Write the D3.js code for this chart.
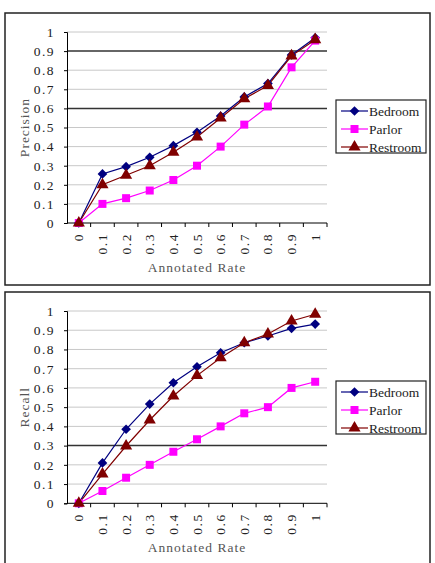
<!DOCTYPE html>
<html>
<head>
<meta charset="utf-8">
<script src="https://cdn.jsdelivr.net/npm/d3@7"></script>
<style>
  body { margin: 0; background: #fff; }
  text { font-family: "Liberation Serif", serif; }
</style>
</head>
<body>
<div id="chart"></div>
<script>
const FRAME_WIDTH = 435;
const FRAME_HEIGHT = 563;

// data
const RATES = ["0", "0.1", "0.2", "0.3", "0.4", "0.5", "0.6", "0.7", "0.8", "0.9", "1"];
const SERIES_NAMES = ["Bedroom", "Parlor", "Restroom"];
const Y_TICKS = [0, 0.1, 0.2, 0.3, 0.4, 0.5, 0.6, 0.7, 0.8, 0.9, 1];

const PRECISION_BEDROOM = [0, 0.257, 0.295, 0.344, 0.405, 0.475, 0.56, 0.66, 0.73, 0.88, 0.97];
const PRECISION_PARLOR = [0, 0.10, 0.13, 0.17, 0.225, 0.30, 0.40, 0.515, 0.61, 0.815, 0.955];
const PRECISION_RESTROOM = [0, 0.20, 0.25, 0.30, 0.37, 0.45, 0.55, 0.65, 0.72, 0.875, 0.96];

const RECALL_BEDROOM = [0, 0.21, 0.385, 0.516, 0.627, 0.71, 0.783, 0.835, 0.87, 0.91, 0.932];
const RECALL_PARLOR = [0, 0.064, 0.133, 0.20, 0.268, 0.333, 0.40, 0.468, 0.50, 0.60, 0.632];
const RECALL_RESTROOM = [0, 0.152, 0.298, 0.433, 0.558, 0.664, 0.757, 0.835, 0.88, 0.948, 0.983];

// the odd dark gridlines in each panel
const PRECISION_DARK = [0.6, 0.9];
const RECALL_DARK = [0.3];

const COLORS = ["#000080", "#ff00ff", "#800000"];
const SYMBOLS = [d3.symbolDiamond2, d3.symbolSquare, d3.symbolTriangle];
const SYMBOL_SIZES = [60, 64, 64];

const FONT_SIZE = "13.5px";

const SVG = d3.select("#chart")
  .append("svg")
    .attr("width", FRAME_WIDTH)
    .attr("height", FRAME_HEIGHT);

function build_panel(top, frameH, plotTop, plotBottom, yLabel, values, darkLines, legendY) {
  const PLOT_LEFT = 67, PLOT_RIGHT = 327;

  // outer frame
  SVG.append("rect")
    .attr("x", 5).attr("y", top)
    .attr("width", 425).attr("height", frameH)
    .attr("fill", "none").attr("stroke", "#222").attr("stroke-width", 1.5);

  const X_SCALE = d3.scaleBand().domain(RATES).range([PLOT_LEFT, PLOT_RIGHT]);
  const Y_SCALE = d3.scaleLinear().domain([0, 1]).range([plotBottom, plotTop]);

  // gridlines
  SVG.append("g").selectAll("line")
    .data(Y_TICKS.slice(1))
    .enter().append("line")
      .attr("x1", PLOT_LEFT).attr("x2", PLOT_RIGHT)
      .attr("y1", d => Y_SCALE(d)).attr("y2", d => Y_SCALE(d))
      .attr("stroke", d => darkLines.includes(d) ? "#333" : "#c8c8c8")
      .attr("stroke-width", d => darkLines.includes(d) ? 1.5 : 1);

  // y axis
  const yAxis = SVG.append("g")
    .attr("transform", "translate(" + PLOT_LEFT + ",0)")
    .call(d3.axisLeft(Y_SCALE).tickValues(Y_TICKS).tickSize(3).tickPadding(9)
      .tickFormat(d => d === 0 || d === 1 ? String(d) : d.toFixed(1)));
  yAxis.selectAll("text")
    .attr("font-size", FONT_SIZE).attr("fill", "#222")
    .attr("letter-spacing", "1.5px")
    .style("font-family", "Liberation Serif");
  yAxis.selectAll("line, path").attr("stroke", "#000");

  // x axis (ticks between categories)
  const xAxis = SVG.append("g")
    .attr("transform", "translate(0," + plotBottom + ")");
  xAxis.append("line")
    .attr("x1", PLOT_LEFT).attr("x2", PLOT_RIGHT)
    .attr("stroke", "#000");
  xAxis.selectAll("line.tk")
    .data(RATES.slice(1).concat(["end"]))
    .enter().append("line")
      .attr("class", "tk")
      .attr("x1", d => d === "end" ? PLOT_RIGHT : X_SCALE(d))
      .attr("x2", d => d === "end" ? PLOT_RIGHT : X_SCALE(d))
      .attr("y1", 0).attr("y2", 4)
      .attr("stroke", "#000");
  xAxis.selectAll("text")
    .data(RATES)
    .enter().append("text")
      .attr("transform", d => "translate(" + (X_SCALE(d) + X_SCALE.bandwidth() / 2 + 4.5) + ",10) rotate(-90)")
      .attr("text-anchor", "end")
      .attr("font-size", FONT_SIZE)
      .attr("letter-spacing", "1.5px")
      .attr("fill", "#222")
      .text(d => d);

  // axis titles
  SVG.append("text")
    .attr("transform", "translate(29," + ((plotTop + plotBottom) / 2) + ") rotate(-90)")
    .attr("text-anchor", "middle")
    .attr("font-size", FONT_SIZE)
    .attr("letter-spacing", "1px")
    .attr("fill", "#555")
    .text(yLabel);
  SVG.append("text")
    .attr("x", (PLOT_LEFT + PLOT_RIGHT) / 2)
    .attr("y", plotBottom + 49)
    .attr("text-anchor", "middle")
    .attr("font-size", FONT_SIZE)
    .attr("letter-spacing", "1px")
    .attr("fill", "#555")
    .text("Annotated Rate");

  // lines + markers
  const line = d3.line()
    .x((d, i) => X_SCALE(RATES[i]) + X_SCALE.bandwidth() / 2)
    .y(d => Y_SCALE(d));

  values.forEach((vals, s) => {
    SVG.append("path")
      .datum(vals)
      .attr("d", line)
      .attr("fill", "none")
      .attr("stroke", COLORS[s])
      .attr("stroke-width", 1.2);
  });
  values.forEach((vals, s) => {
    SVG.append("g").selectAll("path")
      .data(vals)
      .enter().append("path")
        .attr("d", d3.symbol().type(SYMBOLS[s]).size(SYMBOL_SIZES[s]))
        .attr("transform", (d, i) => "translate(" + (X_SCALE(RATES[i]) + X_SCALE.bandwidth() / 2) + "," + Y_SCALE(d) + ")")
        .attr("fill", COLORS[s]);
  });

  // legend
  const legend = SVG.append("g").attr("transform", "translate(336," + legendY + ")");
  legend.append("rect")
    .attr("width", 90).attr("height", 53)
    .attr("fill", "#fff").attr("stroke", "#222").attr("stroke-width", 1.2);
  SERIES_NAMES.forEach((name, s) => {
    const y = 11 + s * 18;
    legend.append("line")
      .attr("x1", 5).attr("x2", 32).attr("y1", y).attr("y2", y)
      .attr("stroke", COLORS[s]).attr("stroke-width", 1.2);
    legend.append("path")
      .attr("d", d3.symbol().type(SYMBOLS[s]).size(SYMBOL_SIZES[s]))
      .attr("transform", "translate(18.5," + y + ")")
      .attr("fill", COLORS[s]);
    legend.append("text")
      .attr("x", 33).attr("y", y + 4.5)
      .attr("font-size", FONT_SIZE)
      .attr("fill", "#222")
      .text(name);
  });
}

build_panel(13, 272, 32, 223, "Precision",
  [PRECISION_BEDROOM, PRECISION_PARLOR, PRECISION_RESTROOM], PRECISION_DARK, 100);
build_panel(292, 280, 311, 503.3, "Recall",
  [RECALL_BEDROOM, RECALL_PARLOR, RECALL_RESTROOM], RECALL_DARK, 381);
</script>
</body>
</html>
